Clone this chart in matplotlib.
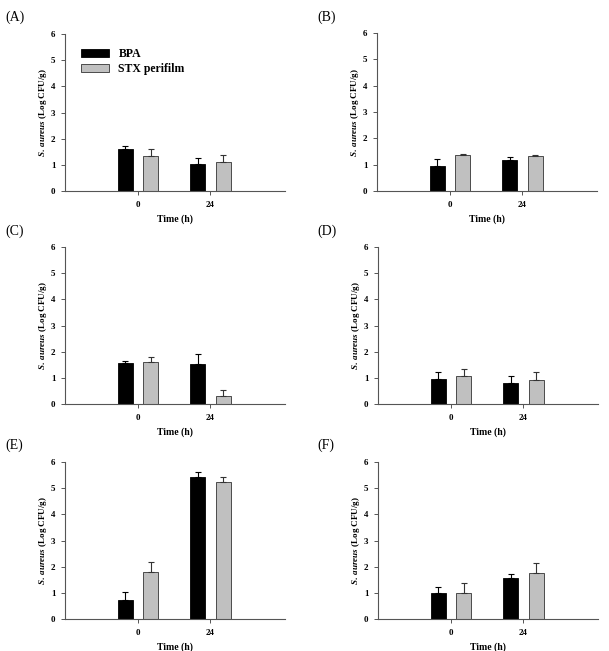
import matplotlib.pyplot as plt
import numpy as np

# Data (Log CFU/g), time points 0 h and 24 h
times = ['0', '24']
series = ['BPA', 'STX perifilm']
panels = ['(A)', '(B)', '(C)', '(D)', '(E)', '(F)']

bpa_mean = [[1.59, 1.04], [0.95, 1.17], [1.55, 1.51],
            [0.97, 0.79], [0.71, 5.44], [1.00, 1.58]]
bpa_err = [[0.14, 0.23], [0.27, 0.11], [0.09, 0.41],
           [0.26, 0.27], [0.34, 0.19], [0.22, 0.13]]
stx_mean = [[1.32, 1.10], [1.36, 1.32], [1.60, 0.32],
            [1.06, 0.91], [1.80, 5.25], [1.01, 1.76]]
stx_err = [[0.28, 0.27], [0.05, 0.06], [0.21, 0.21],
           [0.29, 0.31], [0.39, 0.18], [0.38, 0.39]]

plt.rcParams['font.family'] = ['Liberation Serif', 'DejaVu Serif']
plt.rcParams['mathtext.fontset'] = 'custom'
plt.rcParams['mathtext.rm'] = 'Liberation Serif:bold'
plt.rcParams['mathtext.bf'] = 'Liberation Serif:bold'
plt.rcParams['mathtext.it'] = 'Liberation Serif:italic:bold'

fig = plt.figure(figsize=(6.09, 6.51), dpi=100)

W, H = 609, 651
# axes boxes in pixels: left, top, right, bottom
boxes = [(65, 34, 285, 191), (377, 33, 597, 191),
         (65, 247, 285, 404), (378, 247, 598, 404),
         (65, 462, 285, 619), (378, 462, 598, 619)]
label_pos = [(5, 17), (317, 17), (5, 231), (317, 231), (5, 445), (317, 445)]

x = np.arange(len(times))
bw = 0.21
off = 0.175

for i, (l, t, r, b) in enumerate(boxes):
    ax = fig.add_axes([l / W, 1 - b / H, (r - l) / W, (b - t) / H])
    ax.bar(x - off, bpa_mean[i], bw, color='black', edgecolor='black',
           linewidth=0.6, label=series[0],
           yerr=[[0, 0], bpa_err[i]], capsize=2.5,
           error_kw=dict(ecolor='black', elinewidth=0.8, capthick=0.8))
    ax.bar(x + off, stx_mean[i], bw, color='#c0c0c0', edgecolor='#333333',
           linewidth=0.6, label=series[1],
           yerr=[[0, 0], stx_err[i]], capsize=2.5,
           error_kw=dict(ecolor='#333333', elinewidth=0.8, capthick=0.8))
    ax.set_xlim(-1.01, 2.03)
    ax.set_ylim(0, 6)
    ax.set_yticks(range(7))
    ax.set_xticks(x)
    ax.set_xticklabels(times)
    for s in ['top', 'right']:
        ax.spines[s].set_visible(False)
    for s in ['left', 'bottom']:
        ax.spines[s].set_color('#555555')
        ax.spines[s].set_linewidth(0.8)
    ax.tick_params(axis='both', direction='out', length=3, width=0.7,
                   color='#555555', labelsize=6.5, pad=4)
    for lab in ax.get_xticklabels() + ax.get_yticklabels():
        lab.set_fontweight('bold')
    ax.set_ylabel(r'$\mathit{S.\ aureus}$ (Log CFU/g)', fontsize=6.5,
                  fontweight='bold', labelpad=1.5)
    ax.set_xlabel('Time (h)', fontsize=7, fontweight='bold', labelpad=4)
    fig.text(label_pos[i][0] / W, 1 - label_pos[i][1] / H, panels[i],
             fontsize=10, va='center', ha='left')
    if i == 0:
        ax.legend(loc='upper left', bbox_to_anchor=(0.05, 0.94), frameon=False,
                  prop=dict(size=8.5, weight='bold'), handlelength=2.4,
                  handleheight=0.6, labelspacing=0.25, borderaxespad=0)

fig.savefig('out.png', dpi=100)
